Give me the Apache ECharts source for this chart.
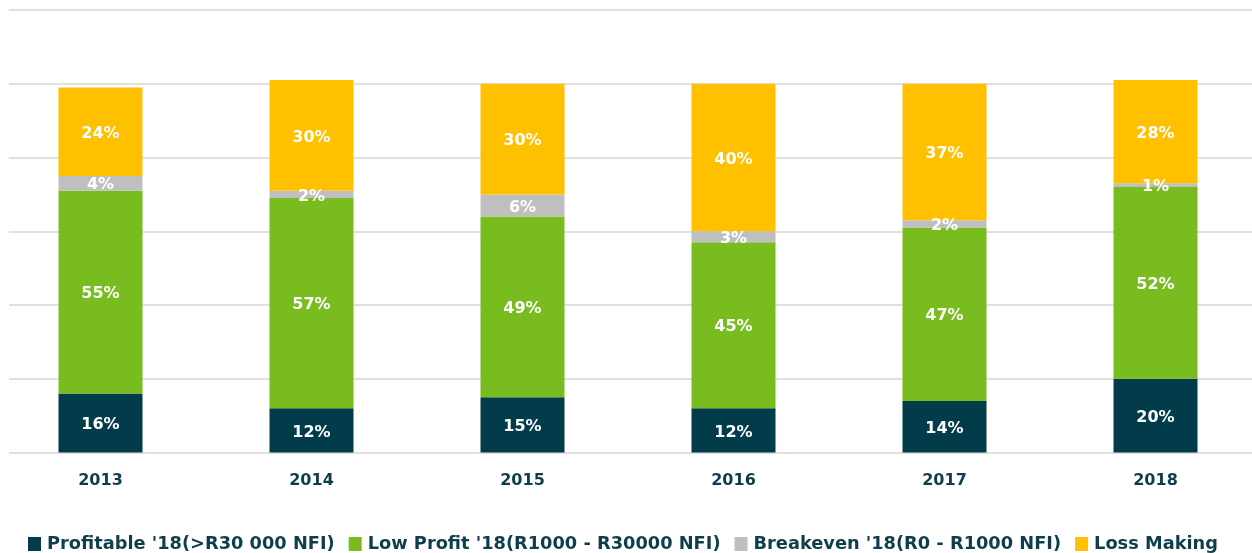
<!DOCTYPE html>
<html>
<head>
<meta charset="utf-8">
<script src="https://cdn.jsdelivr.net/npm/echarts@6/dist/echarts.min.js"></script>
<style>
  html, body { margin: 0; padding: 0; background: #ffffff; }
  #chart { width: 1252px; height: 553px; }
</style>
</head>
<body>
<div id="chart"></div>
<script>
// Share of businesses by profitability band, per year (%)
const years = ['2013', '2014', '2015', '2016', '2017', '2018'];
const profitable = [16, 12, 15, 12, 14, 20];
const lowProfit = [55, 57, 49, 45, 47, 52];
const breakeven = [4, 2, 6, 3, 2, 1];
const lossMaking = [24, 30, 30, 40, 37, 28];

const seriesNames = [
  "Profitable '18(>R30 000 NFI)",
  "Low Profit '18(R1000 - R30000 NFI)",
  "Breakeven '18(R0 - R1000 NFI)",
  "Loss Making"
];
const colors = ['#023c4b', '#78bc20', '#bfbfbf', '#ffc000'];

const FONT = 'DejaVu Sans';
const TEXT = '#0e3d4b';

const chart = echarts.init(document.getElementById('chart'), null, { renderer: 'canvas' });

function barSeries(name, data, color) {
  return {
    name: name,
    type: 'bar',
    stack: 'total',
    xAxisIndex: 0,
    yAxisIndex: 0,
    barWidth: 84,
    data: data,
    itemStyle: { color: color },
    label: {
      show: true,
      position: 'inside',
      offset: [0, 2],
      formatter: '{c}%',
      color: '#ffffff',
      fontFamily: FONT,
      fontWeight: 'bold',
      fontSize: 16
    },
    emphasis: { disabled: true }
  };
}

chart.setOption({
  animation: false,
  color: colors,
  textStyle: { fontFamily: FONT },
  grid: [
    // bars: category bands run slightly past both canvas edges
    { left: -5, width: 1266, top: 10, bottom: 100.5, containLabel: false, outerBoundsMode: 'none' },
    // horizontal gridlines
    { left: 9, width: 1260, top: 10, bottom: 100.5, containLabel: false, outerBoundsMode: 'none' }
  ],
  legend: {
    data: seriesNames,
    left: 23,
    top: 530,
    itemWidth: 13,
    itemHeight: 14,
    itemGap: 14,
    icon: 'rect',
    textStyle: {
      fontFamily: FONT,
      fontWeight: 'bold',
      fontSize: 17.8,
      color: TEXT,
      padding: [0, 0, 0, 1]
    }
  },
  xAxis: [
    {
      type: 'category',
      gridIndex: 0,
      data: years,
      axisLine: { show: false },
      axisTick: { show: false },
      axisLabel: {
        margin: 20,
        fontFamily: FONT,
        fontWeight: 'bold',
        fontSize: 16,
        color: TEXT
      }
    },
    {
      type: 'category',
      gridIndex: 1,
      data: years,
      show: false
    }
  ],
  yAxis: [
    {
      type: 'value',
      gridIndex: 0,
      min: 0,
      max: 120,
      interval: 20,
      axisLabel: { show: false },
      axisLine: { show: false },
      axisTick: { show: false },
      splitLine: { show: false }
    },
    {
      type: 'value',
      gridIndex: 1,
      min: 0,
      max: 120,
      interval: 20,
      axisLabel: { show: false },
      axisLine: { show: false },
      axisTick: { show: false },
      splitLine: { show: true, lineStyle: { color: '#e0e0e0', width: 2 } }
    }
  ],
  series: [
    barSeries(seriesNames[0], profitable, colors[0]),
    barSeries(seriesNames[1], lowProfit, colors[1]),
    barSeries(seriesNames[2], breakeven, colors[2]),
    barSeries(seriesNames[3], lossMaking, colors[3])
  ]
});
</script>
</body>
</html>
